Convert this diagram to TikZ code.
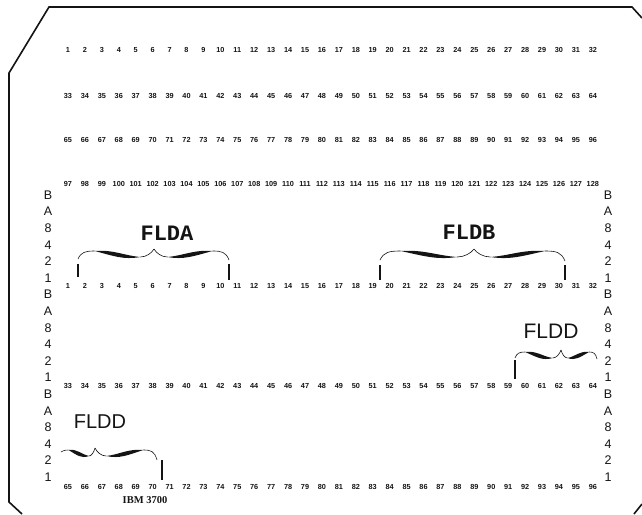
\documentclass[tikz,border=0pt]{standalone}
\usepackage{fontspec}
\setmainfont{Liberation Sans}
\newfontfamily\cardmono{Liberation Mono}
\newfontfamily\cardserif{Liberation Serif}
\usepackage{tikz}
\definecolor{figink}{RGB}{20,20,20}
\tikzset{
  card/.style     ={draw=figink, line width=1.6pt, line join=miter},
  numlbl/.style   ={font=\bfseries\fontsize{7.3}{8}\selectfont, inner sep=0pt, text=figink},
  bitlbl/.style   ={font=\fontsize{12.5}{13}\selectfont, inner sep=0pt, text=figink},
  fldmono/.style  ={font=\cardmono\bfseries\fontsize{22}{24}\selectfont, inner sep=0pt, text=figink},
  fldsans/.style  ={font=\fontsize{21}{23}\selectfont, inner sep=0pt, text=figink},
  fldtick/.style  ={draw=figink, line width=1.2pt},
  bracethin/.style={draw=figink, line width=0.6pt},
}
% one half of a curly brace: end (#1,#2) to tip (#3,#4)
\newcommand{\bracewing}[4]{%
  \pgfmathsetmacro{\bwd}{#3-#1}%
  \pgfmathsetmacro{\bsx}{#1+0.22*(\bwd)}%
  \pgfmathsetmacro{\bsy}{#4+2}%
  \pgfmathsetmacro{\blx}{#1+0.82*(\bwd)}%
  \pgfmathsetmacro{\bly}{#4+8}%
  \draw[bracethin] (#1,#2) .. controls ({#1+0.04*(\bwd)},{\bsy+1}) and ({#1+0.1*(\bwd)},\bsy) .. (\bsx,\bsy);
  \fill[figink] (\bsx,\bsy) .. controls ({\bsx+0.25*(\bwd)},{\bsy-1.5}) and ({\blx-0.22*(\bwd)},{\bly-1.5}) .. (\blx,\bly)
    .. controls ({\blx-0.22*(\bwd)},{\bly+3}) and ({\bsx+0.25*(\bwd)},{\bsy+5}) .. (\bsx,\bsy) -- cycle;
  \draw[bracethin] (\blx,\bly) .. controls ({\blx+0.08*(\bwd)},\bly) and ({#3-0.03*(\bwd)},{#4+4}) .. (#3,#4);
}
\begin{document}
\begin{tikzpicture}[x=1pt,y=-1pt]
  \useasboundingbox (0,0) rectangle (642,514);
  % card outline
  \draw[card] (22,514) -- (9,502) -- (9,73) -- (49,7) -- (632,7) -- (642,18);
  \draw[card] (642,504) -- (634,514);
  % column numbers, upper block
  \foreach \r/\y in {0/50,1/96,2/140,3/184}
    \foreach \c in {1,...,32} {
      \pgfmathtruncatemacro{\n}{32*\r+\c}
      \node[numlbl] (t\n) at ({51.07+16.93*\c},\y) {\n};
    }
  % zone bit labels, both sides
  \foreach \b [count=\k] in {B,A,8,4,2,1,B,A,8,4,2,1,B,A,8,4,2,1} {
    \node[bitlbl] (bl\k) at (48,{195+16.6*(\k-1)}) {\b};
    \node[bitlbl] (br\k) at (608,{195+16.6*(\k-1)}) {\b};
  }
  % column numbers, lower block
  \foreach \r/\y in {0/286,1/386,2/487}
    \foreach \c in {1,...,32} {
      \pgfmathtruncatemacro{\n}{32*\r+\c}
      \node[numlbl] (m\n) at ({51.07+16.93*\c},\y) {\n};
    }
  % FLDA
  \node[fldmono] (flda) at (167,233) {FLDA};
  \bracewing{78}{259}{154}{249}
  \bracewing{229}{260}{154}{249}
  \draw[fldtick] (78,264) -- (78,277);
  \draw[fldtick] (229,264) -- (229,280);
  % FLDB
  \node[fldmono] (fldb) at (469,232) {FLDB};
  \bracewing{380}{260}{474}{249}
  \bracewing{565}{261}{474}{249}
  \draw[fldtick] (380,265) -- (380,280);
  \draw[fldtick] (565,265) -- (565,280);
  % FLDD, right
  \node[fldsans] (flddr) at (551,331) {FLDD};
  \bracewing{515}{358}{561}{350}
  \bracewing{597}{359}{561}{350}
  \draw[fldtick] (515,360) -- (515,379);
  % FLDD, left
  \node[fldsans,font=\fontsize{20}{22}\selectfont] (flddl) at (100,422) {FLDD};
  \bracewing{61}{452}{95}{448}
  \bracewing{157}{460}{95}{448}
  \draw[fldtick] (162,460) -- (162,480);
  % maker mark
  \node[font=\cardserif\bfseries\fontsize{10.5}{11}\selectfont, inner sep=0pt, text=figink] (ibm) at (145,500) {IBM 3700};
\end{tikzpicture}
\end{document}
